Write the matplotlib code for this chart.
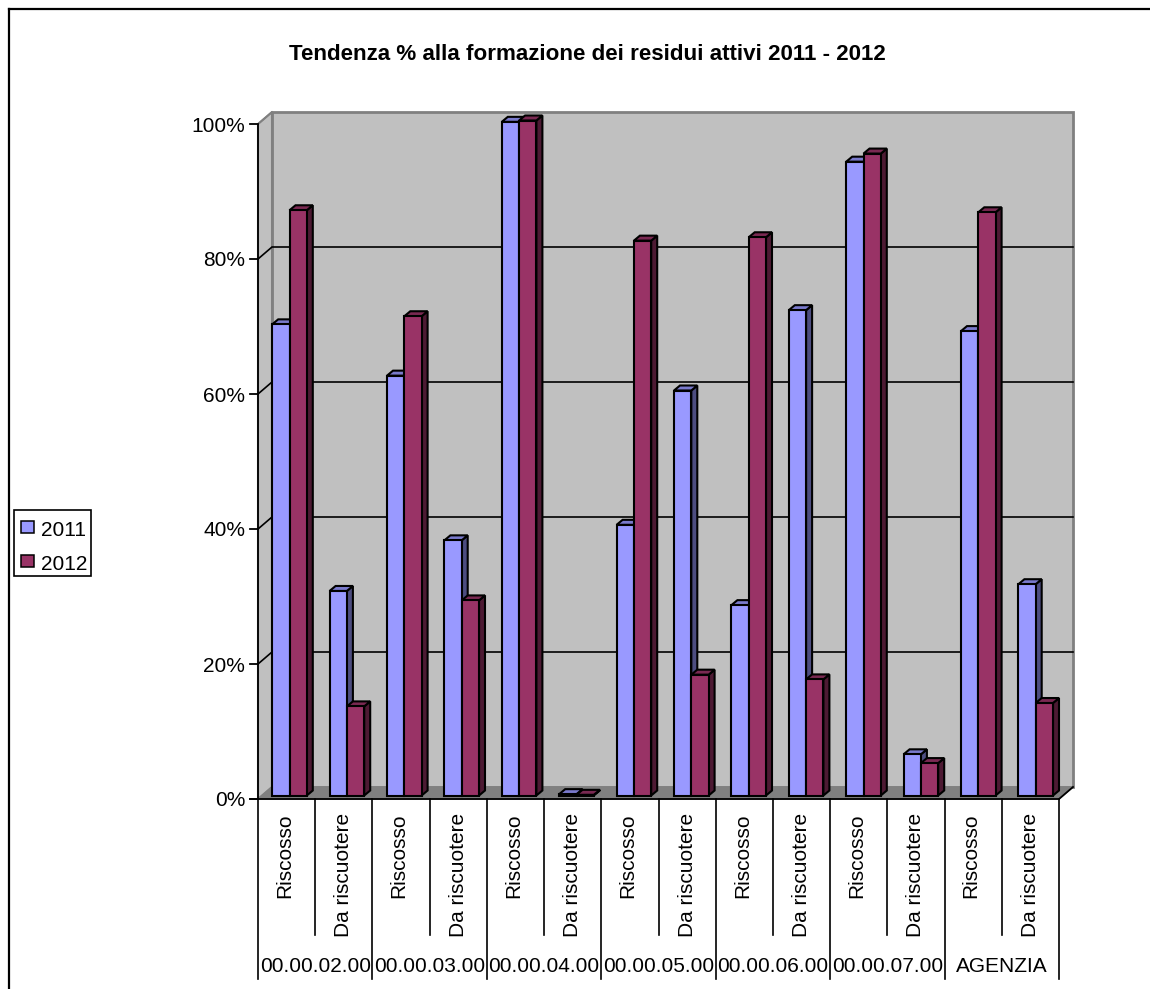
import matplotlib
matplotlib.use("Agg")
import matplotlib.pyplot as plt
from matplotlib.patches import Polygon, Rectangle
from matplotlib.lines import Line2D

plt.rcParams['font.family'] = ['Liberation Sans', 'DejaVu Sans']

title = "Tendenza % alla formazione dei residui attivi 2011 - 2012"
series_names = ["2011", "2012"]
groups = ["00.00.02.00", "00.00.03.00", "00.00.04.00", "00.00.05.00",
          "00.00.06.00", "00.00.07.00", "AGENZIA"]
subcats = ["Riscosso", "Da riscuotere"]
values_2011 = [69.8, 30.3, 62.2, 37.8, 99.8, 0.2, 40.1, 60.0, 28.2, 71.9, 93.9, 6.1, 68.8, 31.3]
values_2012 = [86.7, 13.2, 71.0, 28.9, 100, 0.1, 82.2, 17.9, 82.7, 17.2, 95.1, 4.8, 86.4, 13.7]
yticks = [0, 20, 40, 60, 80, 100]

W, H = 1150, 989
L, R, T, B = 258, 1059, 124, 799
fig = plt.figure(figsize=(W / 100, H / 100), dpi=100, facecolor="white")
ax = fig.add_axes([L / W, 1 - B / H, (R - L) / W, (B - T) / H])
ax.set_xlim(0, len(values_2011))
ax.set_ylim(0, 100)
ax.axis("off")

px = len(values_2011) / (R - L)      # data units per pixel, x
py = 100 / (B - T)                   # data units per pixel, y
wall_dx, wall_dy = 14 * px, 12 * py  # depth of the chart box
bar_dx, bar_dy = 6 * px, 5 * py      # depth of each bar
bar_start, bar_pitch = 14.2 * px, 57.4 * px
bar_shift_y = 3.5 * py
bar_w = 17.3 * px
n = len(values_2011)

def poly(pts, fc, ec="none", lw=0, z=1):
    ax.add_patch(Polygon(pts, closed=True, facecolor=fc, edgecolor=ec, linewidth=lw,
                         zorder=z, clip_on=False, joinstyle="miter"))

# walls and floor
poly([(wall_dx, wall_dy), (n + wall_dx, wall_dy), (n + wall_dx, 100 + wall_dy), (wall_dx, 100 + wall_dy)],
     "#C0C0C0", "#808080", 2, 1)
poly([(0, 0), (wall_dx, wall_dy), (wall_dx, 100 + wall_dy), (0, 100)], "#C0C0C0", "#808080", 1.5, 1)
poly([(0, 0), (n, 0), (n + wall_dx, wall_dy), (wall_dx, wall_dy)], "#808080", "#808080", 1, 1)

# gridlines
for v in yticks[1:-1]:
    ax.plot([0, wall_dx, n + wall_dx], [v, v + wall_dy, v + wall_dy], color="black", lw=1.2,
            zorder=2, clip_on=False, solid_joinstyle="miter")
ax.plot([0, wall_dx], [100, 100 + wall_dy], color="#808080", lw=1.2, zorder=2, clip_on=False)

# bars
z = 3
styles = [("#9999FF", "#7A7ACC", "#4D4D80"), ("#993366", "#7A2952", "#4D1A33")]
for i in range(n):
    for k, vals in enumerate((values_2011, values_2012)):
        front, top, side = styles[k]
        x0 = bar_start + i * bar_pitch + k * bar_w
        x1 = x0 + bar_w
        y0 = bar_shift_y
        y1 = vals[i] + bar_shift_y
        poly([(x1, y0), (x1 + bar_dx, y0 + bar_dy), (x1 + bar_dx, y1 + bar_dy), (x1, y1)],
             side, "black", 1.5, z)
        poly([(x0, y1), (x1, y1), (x1 + bar_dx, y1 + bar_dy), (x0 + bar_dx, y1 + bar_dy)],
             top, "black", 1.5, z)
        ax.bar(x0, vals[i], width=bar_w, bottom=y0, align="edge", color=front,
               edgecolor="black", linewidth=1.5, zorder=z + 0.5, clip_on=False)
        z += 1

# value axis
AX = dict(color="black", lw=1.3, clip_on=False, zorder=z + 1, transform=ax.transData)
ax.plot([0, 0], [0, 100], solid_capstyle="butt", **AX)
for v in yticks:
    ax.plot([-8 * px, 0], [v, v], **AX)
    ax.text(-13 * px, v - 2 * py, f"{v}%", ha="right", va="center", fontsize=15, color="black", clip_on=False)
ax.plot([-8 * px, n], [0, 0], **AX)
ax.plot([n, n + wall_dx], [0, wall_dy], **AX)

# category labels, in figure pixels
def fx(p): return p / W
def fy(p): return 1 - p / H
def vline(xp, y0, y1):
    fig.add_artist(Line2D([fx(xp)] * 2, [fy(y0), fy(y1)], color="black", lw=1.2, zorder=20))

for i in range(n):
    xp = L + (i + 0.5) * (R - L) / n
    fig.text(fx(xp - 2 + (i % 2) * 2), fy(813), subcats[i % 2], rotation=90, ha="center", va="top",
             fontsize=15, color="black", zorder=21)
    edge = L + i * (R - L) / n
    vline(edge, 799, 979 if i % 2 == 0 else 935)
vline(R, 799, 979)
for g, name in enumerate(groups):
    xp = L + (g + 0.5) * 2 * (R - L) / n
    fig.text(fx(xp), fy(967), name, ha="center", va="center", fontsize=15, color="black", zorder=21)

# title
fig.text(fx(587.5), fy(54), title, ha="center", va="center", fontsize=16.1, fontweight="bold", color="black")

# chart frame (top and left edges only)
fig.add_artist(Line2D([fx(9), fx(9)], [fy(989), fy(9)], color="black", lw=1.6))
fig.add_artist(Line2D([fx(9), fx(1150)], [fy(9), fy(9)], color="black", lw=1.6))

# legend
fig.add_artist(Rectangle((fx(14), fy(576)), 77 / W, 66 / H, transform=fig.transFigure,
                         facecolor="white", edgecolor="black", linewidth=1.2))
for name, (front, _, _), yp in zip(series_names, styles, (527, 561)):
    fig.add_artist(Rectangle((fx(21), fy(yp + 6)), 13 / W, 12 / H, transform=fig.transFigure,
                             facecolor=front, edgecolor="black", linewidth=1.1))
    fig.text(fx(41), fy(yp + 3), name, ha="left", va="center", fontsize=15, color="black")

fig.savefig("out.png", dpi=100, facecolor="white")
